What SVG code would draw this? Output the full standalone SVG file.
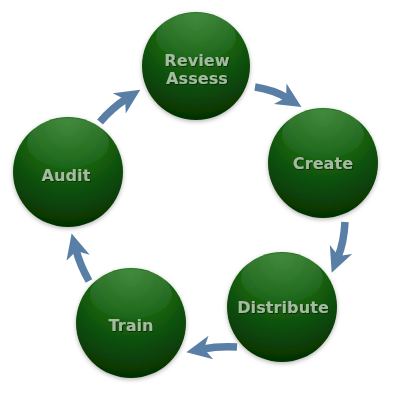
<svg xmlns="http://www.w3.org/2000/svg" width="400" height="400" viewBox="0 0 400 400">
<defs>
<radialGradient id="ball" cx="0.5" cy="0.15" r="0.9" fx="0.5" fy="0.05">
<stop offset="0" stop-color="#2a7a25"/>
<stop offset="0.45" stop-color="#156010"/>
<stop offset="1" stop-color="#032c02"/>
</radialGradient>
<linearGradient id="gloss" x1="0" y1="0" x2="0" y2="1">
<stop offset="0" stop-color="#ffffff" stop-opacity="0.12"/>
<stop offset="1" stop-color="#ffffff" stop-opacity="0.02"/>
</linearGradient>
<filter id="shadow" x="-20%" y="-20%" width="140%" height="140%">
<feDropShadow dx="0" dy="1.5" stdDeviation="2" flood-color="#000" flood-opacity="0.3"/>
</filter>
<filter id="tshadow" x="-10%" y="-30%" width="120%" height="160%">
<feDropShadow dx="0.8" dy="0.8" stdDeviation="0.4" flood-color="#021a01" flood-opacity="0.8"/>
</filter>
<marker id="head" viewBox="-26 -13 28 26" refX="-16" refY="0" markerWidth="28" markerHeight="26" markerUnits="userSpaceOnUse" orient="auto">
<path d="M1,0 L-24,-12 L-17,0 L-24,12 Z" fill="#5a7fa7"/>
</marker>
<style>
.ball{fill:url(#ball);filter:url(#shadow)}
.gloss{fill:url(#gloss)}
.lbl{font-family:"DejaVu Sans",Verdana,sans-serif;font-weight:bold;font-size:16px;letter-spacing:0.1px;fill:#a3bb9f;text-anchor:middle;filter:url(#tshadow)}
.arr{fill:none;stroke:#5a7fa7;stroke-width:7.5;marker-end:url(#head)}
</style>
</defs>
<rect width="400" height="400" fill="#ffffff"/>
<g id="connectors">
<path class="arr" d="M255,87 Q274,90 287,98"/>
<path class="arr" d="M345,222 Q344,242 338,257"/>
<path class="arr" d="M237,347 Q218,346 203,349"/>
<path class="arr" d="M89,281 Q80,265 76,250"/>
<path class="arr" d="M100,122 Q112,108 126,99"/>
</g>
<g id="review">
<circle class="ball" cx="196" cy="66" r="54"/>
<ellipse class="gloss" cx="196" cy="37" rx="40" ry="24"/>
<text class="lbl" x="197" y="66">Review</text>
<text class="lbl" x="197" y="84">Assess</text>
</g>
<g id="create">
<circle class="ball" cx="323" cy="163" r="55"/>
<ellipse class="gloss" cx="323" cy="134" rx="41" ry="25"/>
<text class="lbl" x="323" y="169">Create</text>
</g>
<g id="distribute">
<circle class="ball" cx="282" cy="307" r="55"/>
<ellipse class="gloss" cx="282" cy="278" rx="41" ry="25"/>
<text class="lbl" x="283" y="313">Distribute</text>
</g>
<g id="train">
<circle class="ball" cx="131" cy="323" r="55"/>
<ellipse class="gloss" cx="131" cy="294" rx="41" ry="25"/>
<text class="lbl" x="131" y="331">Train</text>
</g>
<g id="audit">
<circle class="ball" cx="68" cy="172" r="55"/>
<ellipse class="gloss" cx="68" cy="143" rx="41" ry="25"/>
<text class="lbl" x="66" y="181">Audit</text>
</g>
</svg>
